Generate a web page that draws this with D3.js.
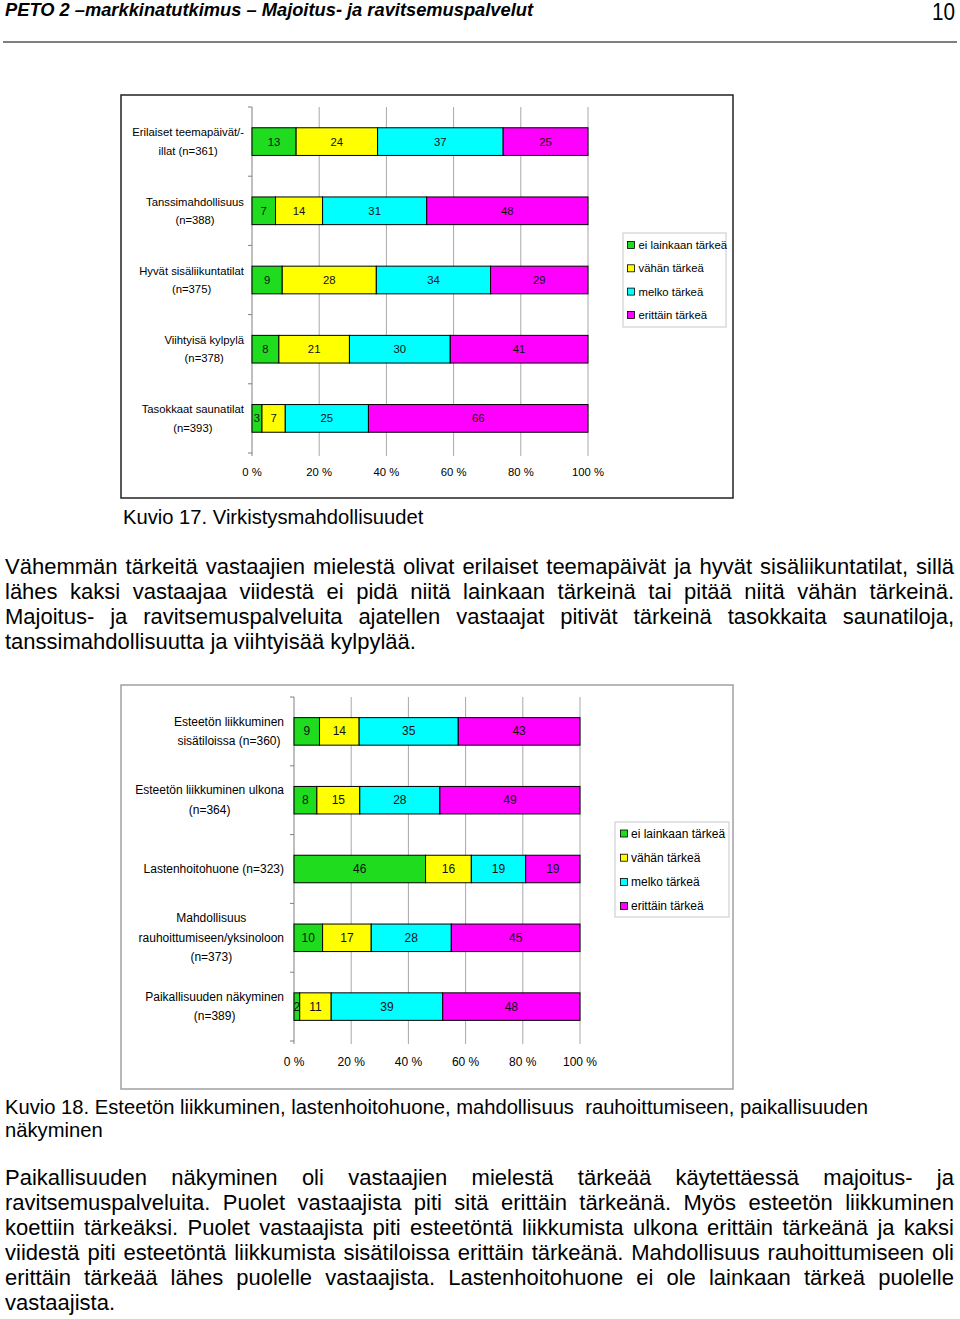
<!DOCTYPE html>
<html><head><meta charset="utf-8">
<script src="https://cdn.jsdelivr.net/npm/d3@7"></script>
<style>
body{margin:0;background:#fff;}
#page{position:relative;width:960px;height:1319px;overflow:hidden;font-family:"Liberation Sans",Arial,sans-serif;color:#000;}
#page svg{position:absolute;left:0;top:0;}
.txt{position:absolute;left:5px;width:949px;}
.para{font-size:22px;line-height:25px;}
.para div{text-align:justify;text-align-last:justify;}
.para div.last{text-align:left;text-align-last:left;}
.cap{font-size:20.2px;line-height:23px;}
</style></head>
<body><div id="page"></div>
<script>
// ---------- data ----------
const headerTitle = "PETO 2 \u2013markkinatutkimus \u2013 Majoitus- ja ravitsemuspalvelut";
const pageNumber = "10";
const seriesNames = ["ei lainkaan tärkeä", "vähän tärkeä", "melko tärkeä", "erittäin tärkeä"];
const seriesColors = ["#1fdc1f", "#ffff00", "#00ffff", "#ff00ff"];
const tickValues = [0, 0.2, 0.4, 0.6, 0.8, 1];
const tickLabels = ["0 %", "20 %", "40 %", "60 %", "80 %", "100 %"];

const cats1 = [
  ["Erilaiset teemapäivät/-", "illat (n=361)"],
  ["Tanssimahdollisuus", "(n=388)"],
  ["Hyvät sisäliikuntatilat", "(n=375)"],
  ["Viihtyisä kylpylä", "(n=378)"],
  ["Tasokkaat saunatilat", "(n=393)"]
];
const ei1 = [13, 7, 9, 8, 3];
const vahan1 = [24, 14, 28, 21, 7];
const melko1 = [37, 31, 34, 30, 25];
const erittain1 = [25, 48, 29, 41, 66];

const cats2 = [
  ["Esteetön liikkuminen", "sisätiloissa (n=360)"],
  ["Esteetön liikkuminen ulkona", "(n=364)"],
  ["Lastenhoitohuone (n=323)"],
  ["Mahdollisuus", "rauhoittumiseen/yksinoloon", "(n=373)"],
  ["Paikallisuuden näkyminen", "(n=389)"]
];
const ei2 = [9, 8, 46, 10, 2];
const vahan2 = [14, 15, 16, 17, 11];
const melko2 = [35, 28, 19, 28, 39];
const erittain2 = [43, 49, 19, 45, 48];

const caption1 = "Kuvio 17. Virkistysmahdollisuudet";
const para1 = [
  "Vähemmän tärkeitä vastaajien mielestä olivat erilaiset teemapäivät ja hyvät sisäliikuntatilat, sillä",
  "lähes kaksi vastaajaa viidestä ei pidä niitä lainkaan tärkeinä tai pitää niitä vähän tärkeinä.",
  "Majoitus- ja ravitsemuspalveluita ajatellen vastaajat pitivät tärkeinä tasokkaita saunatiloja,",
  "tanssimahdollisuutta ja viihtyisää kylpylää."
];
const caption2 = [
  "Kuvio 18. Esteetön liikkuminen, lastenhoitohuone, mahdollisuus \u00a0rauhoittumiseen, paikallisuuden",
  "näkyminen"
];
const para2 = [
  "Paikallisuuden näkyminen oli vastaajien mielestä tärkeää käytettäessä majoitus- ja",
  "ravitsemuspalveluita. Puolet vastaajista piti sitä erittäin tärkeänä. Myös esteetön liikkuminen",
  "koettiin tärkeäksi. Puolet vastaajista piti esteetöntä liikkumista ulkona erittäin tärkeänä ja kaksi",
  "viidestä piti esteetöntä liikkumista sisätiloissa erittäin tärkeänä. Mahdollisuus rauhoittumiseen oli",
  "erittäin tärkeää lähes puolelle vastaajista. Lastenhoitohuone ei ole lainkaan tärkeä puolelle",
  "vastaajista."
];

// ---------- page ----------
const page = d3.select("#page");
const svg = page.append("svg").attr("width", 960).attr("height", 1319);
const FONT = '"Liberation Sans", Arial, sans-serif';

svg.append("text").attr("x", 5).attr("y", 15.5)
  .attr("font-family", FONT).attr("font-size", 18).attr("font-weight", "bold").attr("font-style", "italic")
  .attr("textLength", 528).attr("lengthAdjust", "spacingAndGlyphs").text(headerTitle);
svg.append("text").attr("x", 932).attr("y", 20)
  .attr("font-family", FONT).attr("font-size", 23)
  .attr("textLength", 23).attr("lengthAdjust", "spacingAndGlyphs").text(pageNumber);
svg.append("line").attr("x1", 3).attr("x2", 957).attr("y1", 42).attr("y2", 42)
  .attr("stroke", "#555").attr("stroke-width", 1.5);

function chart(cfg, cats, series) {
  const g = svg.append("g").attr("font-family", FONT);
  g.append("rect").attr("x", cfg.frame[0]).attr("y", cfg.frame[1])
    .attr("width", cfg.frame[2]).attr("height", cfg.frame[3])
    .attr("fill", "#fff").attr("stroke", cfg.frameColor).attr("stroke-width", cfg.frameWidth);

  const names = cats.map(c => c.join(" "));
  const x = d3.scaleLinear().domain([0, 1]).range([cfg.x0, cfg.x1]);
  const y = d3.scaleBand().domain(names).range([cfg.y0, cfg.y1]).padding(0);
  const step = y.step();
  const bh = step * 0.4;

  // gridlines
  g.selectAll("line.grid").data(tickValues.slice(1)).join("line")
    .attr("x1", d => x(d)).attr("x2", d => x(d))
    .attr("y1", cfg.y0).attr("y2", cfg.y1 + 3)
    .attr("stroke", "#a8a8a8").attr("stroke-width", 1);
  // left axis
  g.append("line").attr("x1", x(0)).attr("x2", x(0)).attr("y1", cfg.y0).attr("y2", cfg.y1 + 3)
    .attr("stroke", "#808080");
  const bounds = names.map(n => y(n)).concat([cfg.y1]);
  g.selectAll("line.yt").data(bounds).join("line")
    .attr("x1", x(0) - 4).attr("x2", x(0)).attr("y1", d => d).attr("y2", d => d)
    .attr("stroke", "#808080");

  // tick labels
  g.selectAll("text.tk").data(tickValues).join("text")
    .attr("x", d => x(d)).attr("y", cfg.tickY).attr("text-anchor", "middle")
    .attr("dominant-baseline", "central").attr("font-size", cfg.fs)
    .text((d, i) => tickLabels[i]);

  // category labels (centered block, right aligned)
  cats.forEach((lines, i) => {
    const cy = y(names[i]) + step / 2;
    const tg = g.append("g");
    const ts = lines.map((l, j) => tg.append("text")
      .attr("y", cy + (j - (lines.length - 1) / 2) * cfg.lineGap)
      .attr("dominant-baseline", "central").attr("text-anchor", "middle")
      .attr("font-size", cfg.fs).text(l));
    const w = d3.max(ts, t => t.node().getComputedTextLength());
    ts.forEach(t => t.attr("x", cfg.labelRight - w / 2));
  });

  // bars
  cats.forEach((c, i) => {
    const vals = series.map(s => s[i]);
    const total = d3.sum(vals);
    let cum = 0;
    const yy = y(names[i]) + (step - bh) / 2;
    vals.forEach((v, k) => {
      const a = cum / total, b = (cum + v) / total;
      cum += v;
      g.append("rect").attr("x", x(a)).attr("y", yy)
        .attr("width", x(b) - x(a)).attr("height", bh)
        .attr("fill", seriesColors[k]).attr("stroke", "#000").attr("stroke-width", 1);
      g.append("text").attr("x", (x(a) + x(b)) / 2).attr("y", yy + bh / 2)
        .attr("text-anchor", "middle").attr("dominant-baseline", "central")
        .attr("font-size", cfg.fs).attr("fill", "#111").text(v);
    });
  });

  // legend
  const L = cfg.legend;
  g.append("rect").attr("x", L.x).attr("y", L.y).attr("width", L.w).attr("height", L.h)
    .attr("fill", "#fff").attr("stroke", "#c8c8c8");
  seriesNames.forEach((n, k) => {
    const iy = L.item0 + k * L.step;
    g.append("rect").attr("x", L.mx).attr("y", iy - 3.5).attr("width", 7).attr("height", 7)
      .attr("fill", seriesColors[k]).attr("stroke", "#000").attr("stroke-width", 0.8);
    g.append("text").attr("x", L.tx).attr("y", iy).attr("dominant-baseline", "central")
      .attr("font-size", cfg.fs).text(n);
  });
}

chart({frame: [121, 95, 612, 403], frameColor: "#222", frameWidth: 1.5,
       x0: 252, x1: 588, y0: 107, y1: 453, labelRight: 244, fs: 11.3, lineGap: 18.5, tickY: 472,
       legend: {x: 623, y: 233, w: 103, h: 94, item0: 245, step: 23.3, mx: 627.5, tx: 638.5}},
      cats1, [ei1, vahan1, melko1, erittain1]);

chart({frame: [121, 685, 612, 404], frameColor: "#a0a0a0", frameWidth: 1.5,
       x0: 294, x1: 580, y0: 697, y1: 1041, labelRight: 284, fs: 12, lineGap: 19.5, tickY: 1062,
       legend: {x: 615, y: 822, w: 114, h: 95, item0: 833.5, step: 24.2, mx: 620.5, tx: 631}},
      cats2, [ei2, vahan2, melko2, erittain2]);

// ---------- text blocks ----------
page.append("div").attr("class", "txt cap").style("top", "506px").style("left", "123px").text(caption1);
function para(lines, top, cls) {
  const d = page.append("div").attr("class", "txt " + cls).style("top", top + "px");
  d.selectAll("div").data(lines).join("div")
    .attr("class", (s, i) => i === lines.length - 1 ? "last" : null)
    .text(s => s);
}
para(para1, 554, "para");
page.append("div").attr("class", "txt cap").style("top", "1096px")
  .selectAll("div").data(caption2).join("div").text(s => s);
para(para2, 1165, "para");
</script>
</body></html>
